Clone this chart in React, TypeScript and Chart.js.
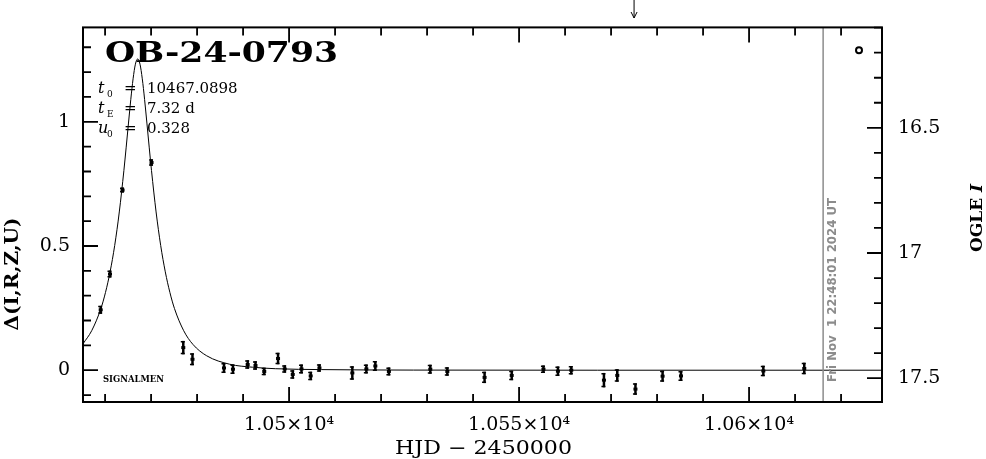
import React, { useEffect, useRef } from "react";
import { Chart, registerables } from "chart.js";

Chart.register(...registerables);

// ---------- data ----------
const OBJECT_NAME = "OB-24-0793";
const T0_TEXT = "10467.0898";
const TE_TEXT = "7.32 d";
const U0_TEXT = "0.328";
const SURVEY_TEXT = "SIGNALMEN";
const STAMP_TEXT = "Fri Nov  1 22:48:01 2024 UT";
const STAMP_HJD = 10616.1;
const ARROW_HJD = 10575;

const X_MIN = 10455.2;
const X_MAX = 10628.9;
const Y_MIN = -0.128;
const Y_MAX = 1.38;
const MAG_MIN = 16.099;
const MAG_MAX = 17.595;

const xTicks = [10500, 10550, 10600];
const xTickLabels = ["1.05×10⁴", "1.055×10⁴", "1.06×10⁴"];
const yTicks = [0, 0.5, 1];
const yTickLabels = ["0", "0.5", "1"];
const magTicks = [16.5, 17, 17.5];
const magTickLabels = ["16.5", "17", "17.5"];

const hjd = [
  10459.05, 10461.07, 10463.8, 10470.1, 10477.0, 10479.0, 10485.85, 10487.8,
  10491.0, 10492.7, 10494.6, 10497.6, 10499.05, 10500.8, 10502.7, 10504.7,
  10506.6, 10513.75, 10516.8, 10518.75, 10521.7, 10530.7, 10534.4, 10542.5,
  10548.4, 10555.3, 10558.45, 10561.35, 10568.45, 10571.35, 10575.3, 10581.2,
  10585.2, 10603.1, 10612.0,
];
const delta = [
  0.243, 0.387, 0.725, 0.836, 0.091, 0.044, 0.009, 0.004,
  0.023, 0.019, -0.005, 0.047, 0.005, -0.017, 0.005, -0.023,
  0.009, -0.011, 0.005, 0.017, -0.005, 0.004, -0.005, -0.029,
  -0.021, 0.004, -0.004, 0.0, -0.04, -0.021, -0.076, -0.024,
  -0.023, -0.003, 0.007,
];
const deltaErr = [
  0.016, 0.014, 0.01, 0.013, 0.027, 0.024, 0.02, 0.019,
  0.017, 0.017, 0.015, 0.023, 0.015, 0.017, 0.018, 0.017,
  0.015, 0.027, 0.018, 0.02, 0.016, 0.018, 0.017, 0.023,
  0.019, 0.015, 0.019, 0.017, 0.029, 0.025, 0.023, 0.022,
  0.02, 0.021, 0.023,
];

const modelHjd = [
  10455.19, 10457.09, 10459.09, 10460.09, 10461.09, 10462.09, 10463.09, 10464.09,
  10464.59, 10465.09, 10465.59, 10466.09, 10466.59, 10467.09, 10467.59, 10468.09,
  10468.59, 10469.09, 10469.59, 10470.09, 10471.09, 10472.09, 10473.09, 10474.09,
  10475.09, 10477.09, 10479.09, 10482.09, 10487.09, 10492.09, 10497.09, 10507.09,
  10527.09, 10567.09, 10628.9,
];
const modelDelta = [
  0.106, 0.159, 0.248, 0.313, 0.396, 0.502, 0.637, 0.804,
  0.898, 0.995, 1.09, 1.173, 1.232, 1.253, 1.232, 1.173,
  1.09, 0.995, 0.898, 0.804, 0.637, 0.502, 0.396, 0.313,
  0.248, 0.159, 0.104, 0.058, 0.024, 0.012, 0.006, 0.0024,
  0.0005, 0.0, 0.0,
];

const currentHjd = [10623.9];
const currentDelta = [1.288];

const SERIF = '"DejaVu Serif", serif';

function fillFit(ctx: CanvasRenderingContext2D, text: string, x: number, y: number, w: number) {
  const m = ctx.measureText(text).width;
  ctx.save();
  ctx.translate(x, y);
  ctx.scale(w / m, 1);
  ctx.fillText(text, 0, 0);
  ctx.restore();
}

const decorPlugin = {
  id: "decor",
  afterDatasetsDraw(chart: any) {
    const ctx: CanvasRenderingContext2D = chart.ctx;
    const { left, right, top, bottom } = chart.chartArea;
    const xs = chart.scales.x;
    const ys = chart.scales.y;
    const ms = chart.scales.y2;
    ctx.save();

    // grey time-stamp line
    const sx = xs.getPixelForValue(STAMP_HJD);
    ctx.strokeStyle = "#8c8c8c";
    ctx.lineWidth = 1.5;
    ctx.beginPath();
    ctx.moveTo(sx, top);
    ctx.lineTo(sx, bottom);
    ctx.stroke();

    // grey rotated stamp text
    ctx.save();
    ctx.fillStyle = "#8c8c8c";
    ctx.font = 'bold 12px "DejaVu Sans", sans-serif';
    ctx.translate(sx + 13, bottom - 20);
    ctx.rotate(-Math.PI / 2);
    ctx.textBaseline = "alphabetic";
    fillFit(ctx, STAMP_TEXT, 0, 0, 184);
    ctx.restore();

    // error bars
    const meta = chart.getDatasetMeta(1);
    ctx.strokeStyle = "#000";
    meta.data.forEach((pt: any, i: number) => {
      const x = pt.x;
      const y1 = ys.getPixelForValue(delta[i] + deltaErr[i]);
      const y2 = ys.getPixelForValue(delta[i] - deltaErr[i]);
      ctx.lineWidth = 2.5;
      ctx.beginPath();
      ctx.moveTo(x, y1);
      ctx.lineTo(x, y2);
      ctx.stroke();
      ctx.lineWidth = 1.5;
      ctx.beginPath();
      ctx.moveTo(x - 2.5, y1 + 0.75);
      ctx.lineTo(x + 1.5, y1 + 0.75);
      ctx.moveTo(x - 2.5, y2 - 0.75);
      ctx.lineTo(x + 1.5, y2 - 0.75);
      ctx.stroke();
      ctx.fillStyle = "#000";
      ctx.fillRect(x - 2, pt.y - 1.5, 4, 3);
    });

    // frame
    ctx.strokeStyle = "#000";
    ctx.lineWidth = 2;
    ctx.strokeRect(left, top, right - left, bottom - top);

    // ticks
    ctx.lineWidth = 1.8;
    ctx.beginPath();
    for (let k = Math.ceil(xs.min / 10); k <= Math.floor(xs.max / 10); k++) {
      const px = xs.getPixelForValue(k * 10);
      const len = k % 5 === 0 ? 15 : 8;
      ctx.moveTo(px, bottom);
      ctx.lineTo(px, bottom - len);
      ctx.moveTo(px, top);
      ctx.lineTo(px, top + len);
    }
    for (let k = Math.ceil(ys.min * 10); k <= Math.floor(ys.max * 10); k++) {
      const py = ys.getPixelForValue(k / 10);
      const len = k % 5 === 0 ? 15 : 8;
      ctx.moveTo(left, py);
      ctx.lineTo(left + len, py);
    }
    for (let k = Math.ceil(ms.min * 10); k <= Math.floor(ms.max * 10); k++) {
      const py = ms.getPixelForValue(k / 10);
      const len = k % 5 === 0 ? 15 : 8;
      ctx.moveTo(right, py);
      ctx.lineTo(right - len, py);
    }
    ctx.stroke();

    // arrow at top
    const ax = xs.getPixelForValue(ARROW_HJD);
    ctx.lineWidth = 1;
    ctx.beginPath();
    ctx.moveTo(ax, 0);
    ctx.lineTo(ax, 18);
    ctx.moveTo(ax - 3, 12);
    ctx.lineTo(ax, 18);
    ctx.lineTo(ax + 3, 12);
    ctx.stroke();

    // title
    ctx.fillStyle = "#000";
    ctx.textAlign = "left";
    ctx.textBaseline = "alphabetic";
    ctx.font = `bold 27px ${SERIF}`;
    fillFit(ctx, OBJECT_NAME, left + 22, 62, 233);

    // parameters
    const rows: [string, string, string, number][] = [
      ["t", "0", T0_TEXT, 93],
      ["t", "E", TE_TEXT, 113],
      ["u", "0", U0_TEXT, 133],
    ];
    rows.forEach(([sym, sub, val, by]) => {
      ctx.font = `italic 16px ${SERIF}`;
      ctx.fillText(sym, left + 15, by);
      ctx.font = `9px ${SERIF}`;
      ctx.fillText(sub, left + 24, by + 4);
      ctx.font = `15px ${SERIF}`;
      ctx.fillText("=", left + 41, by);
      ctx.fillText(val, left + 64, by);
    });

    // survey label
    ctx.font = `bold 9px ${SERIF}`;
    fillFit(ctx, SURVEY_TEXT, left + 20, 382, 61);

    // left axis title
    ctx.save();
    ctx.font = `bold 19px ${SERIF}`;
    ctx.translate(13, 218);
    ctx.rotate(-Math.PI / 2);
    ctx.textAlign = "center";
    ctx.textBaseline = "middle";
    fillFit(ctx, "Δ(I,R,Z,U)", -56, 0, 113);
    ctx.restore();

    // right axis title
    ctx.save();
    ctx.translate(978, 218);
    ctx.rotate(-Math.PI / 2);
    ctx.textBaseline = "middle";
    ctx.textAlign = "left";
    ctx.font = `bold 17px ${SERIF}`;
    const w1 = ctx.measureText("OGLE ").width;
    ctx.font = `bold italic 17px ${SERIF}`;
    const w2 = ctx.measureText("I").width;
    const start = -(w1 + w2) / 2;
    ctx.font = `bold 17px ${SERIF}`;
    ctx.fillText("OGLE ", start, 0);
    ctx.font = `bold italic 17px ${SERIF}`;
    ctx.fillText("I", start + w1, 0);
    ctx.restore();

    // bottom axis title
    ctx.font = `19px ${SERIF}`;
    ctx.textBaseline = "middle";
    ctx.textAlign = "left";
    fillFit(ctx, "HJD − 2450000", 395, 449, 177);

    ctx.restore();
  },
};

export default function App() {
  const ref = useRef<HTMLCanvasElement | null>(null);

  useEffect(() => {
    if (!ref.current) return;
    const tickFont = { family: SERIF, size: 19 };
    const chart = new Chart(ref.current, {
      type: "scatter",
      data: {
        datasets: [
          {
            type: "line",
            data: modelHjd.map((x, i) => ({ x, y: modelDelta[i] })),
            borderColor: "#000",
            borderWidth: 1,
            pointRadius: 0,
            cubicInterpolationMode: "monotone",
            fill: false,
            xAxisID: "x",
            yAxisID: "y",
          } as any,
          {
            data: hjd.map((x, i) => ({ x, y: delta[i] })),
            pointRadius: 0,
            xAxisID: "x",
            yAxisID: "y",
          },
          {
            data: currentHjd.map((x, i) => ({ x, y: currentDelta[i] })),
            pointRadius: 3,
            borderWidth: 2,
            borderColor: "#000",
            backgroundColor: "#fff",
            pointStyle: "circle",
            xAxisID: "x",
            yAxisID: "y",
          },
        ],
      },
      options: {
        responsive: false,
        animation: false,
        events: [],
        layout: { padding: { top: 25, left: 0, right: 0, bottom: 0 } },
        plugins: { legend: { display: false }, tooltip: { enabled: false } },
        scales: {
          x: {
            type: "linear",
            position: "bottom",
            min: X_MIN,
            max: X_MAX,
            grid: { display: false, drawTicks: false },
            border: { display: false },
            ticks: {
              font: tickFont,
              color: "#000",
              padding: 12,
              maxRotation: 0,
              autoSkip: false,
              callback: (v: any) => {
                const i = xTicks.indexOf(Number(v));
                return i >= 0 ? xTickLabels[i] : "";
              },
            },
            afterBuildTicks: (s: any) => {
              s.ticks = xTicks.map((value) => ({ value }));
            },
            afterFit: (s: any) => {
              s.height = 57;
            },
          },
          y: {
            type: "linear",
            position: "left",
            min: Y_MIN,
            max: Y_MAX,
            grid: { display: false, drawTicks: false },
            border: { display: false },
            ticks: {
              font: tickFont,
              color: "#000",
              padding: 13,
              autoSkip: false,
              callback: (v: any) => {
                const i = yTicks.indexOf(Number(v));
                return i >= 0 ? yTickLabels[i] : "";
              },
            },
            afterBuildTicks: (s: any) => {
              s.ticks = yTicks.map((value) => ({ value }));
            },
            afterFit: (s: any) => {
              s.width = 83;
            },
          },
          y2: {
            type: "linear",
            position: "right",
            reverse: true,
            min: MAG_MIN,
            max: MAG_MAX,
            grid: { display: false, drawTicks: false },
            border: { display: false },
            ticks: {
              font: tickFont,
              color: "#000",
              padding: 16,
              autoSkip: false,
              callback: (v: any) => {
                const i = magTicks.indexOf(Number(v));
                return i >= 0 ? magTickLabels[i] : "";
              },
            },
            afterBuildTicks: (s: any) => {
              s.ticks = magTicks.map((value) => ({ value }));
            },
            afterFit: (s: any) => {
              s.width = 104;
            },
          },
        },
      } as any,
      plugins: [decorPlugin],
    });
    return () => chart.destroy();
  }, []);

  return (
    <div style={{ position: "fixed", left: 0, top: 0, width: 986, height: 459, background: "#fff" }}>
      <canvas ref={ref} width={986} height={459} style={{ display: "block" }} />
    </div>
  );
}
